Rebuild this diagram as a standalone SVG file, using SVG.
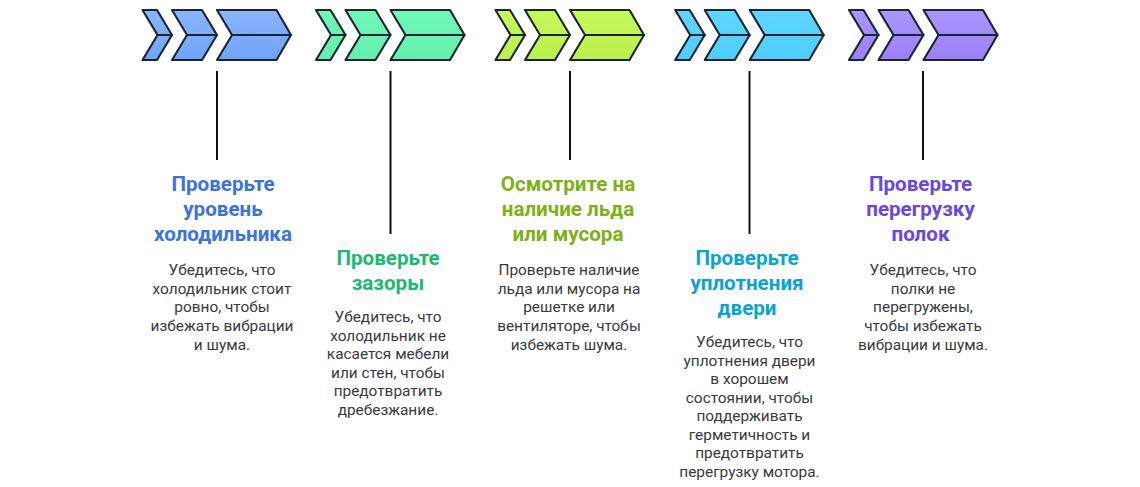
<svg xmlns="http://www.w3.org/2000/svg" width="1140" height="487" viewBox="0 0 1140 487">
<style>
text{font-family:Roboto,"Liberation Sans",sans-serif;text-anchor:middle}
.t{font-size:20.6px;font-weight:700}
.b{font-size:15.4px;fill:#3a3a3a}
.c{stroke:#1b2430;stroke-width:2.1;stroke-linejoin:round;stroke-linecap:round}
.l{stroke:#111;stroke-width:2;fill:none}
</style>
<defs>
<linearGradient id="g1" x1="0" y1="0" x2="0" y2="1"><stop offset="0" stop-color="#8ab5ff"/><stop offset="1" stop-color="#6fa3f8"/></linearGradient>
<linearGradient id="g2" x1="0" y1="0" x2="0" y2="1"><stop offset="0" stop-color="#70f8b8"/><stop offset="1" stop-color="#62f0ac"/></linearGradient>
<linearGradient id="g3" x1="0" y1="0" x2="0" y2="1"><stop offset="0" stop-color="#c6f95a"/><stop offset="1" stop-color="#bcf04e"/></linearGradient>
<linearGradient id="g4" x1="0" y1="0" x2="0" y2="1"><stop offset="0" stop-color="#60d6ff"/><stop offset="1" stop-color="#4ecdfd"/></linearGradient>
<linearGradient id="g5" x1="0" y1="0" x2="0" y2="1"><stop offset="0" stop-color="#aa96ff"/><stop offset="1" stop-color="#9a80f8"/></linearGradient>
<g id="arrows">
<path d="M142.500 10H157L172 35L157 60H142.500L157.500 35Z"/>
<path d="M172 10H202L217 35L202 60H172L187 35Z"/>
<path d="M217 10H276.500L291 35L276.500 60H217L232 35Z"/>
<path d="M157.500 35H172M187 35H217M232 35H291" fill="none"/>
</g>
</defs>
<g id="connectors" class="l">
<path d="M217 71V160"/>
<path d="M390.500 71V234"/>
<path d="M570 71V160"/>
<path d="M749.500 71V234"/>
<path d="M923 71V160"/>
</g>
<g id="node1">
<use href="#arrows" class="c" fill="url(#g1)"/>
<text class="t" fill="#3d73dc"><tspan x="223" y="191">Проверьте</tspan><tspan x="223" y="216">уровень</tspan><tspan x="223" y="241">холодильника</tspan></text>
<text class="b"><tspan x="222" y="275">Убедитесь, что</tspan><tspan x="222" y="294">холодильник стоит</tspan><tspan x="222" y="312">ровно, чтобы</tspan><tspan x="222" y="331">избежать вибрации</tspan><tspan x="222" y="350">и шума.</tspan></text>
</g>
<g id="node2">
<use href="#arrows" x="173.500" class="c" fill="url(#g2)"/>
<text class="t" fill="#1eb872"><tspan x="388" y="265">Проверьте</tspan><tspan x="388" y="290">зазоры</tspan></text>
<text class="b"><tspan x="388" y="322">Убедитесь, что</tspan><tspan x="388" y="341">холодильник не</tspan><tspan x="388" y="359">касается мебели</tspan><tspan x="388" y="378">или стен, чтобы</tspan><tspan x="388" y="396">предотвратить</tspan><tspan x="388" y="415">дребезжание.</tspan></text>
</g>
<g id="node3">
<use href="#arrows" x="353" class="c" fill="url(#g3)"/>
<text class="t" fill="#7fb017"><tspan x="568" y="191">Осмотрите на</tspan><tspan x="568" y="216">наличие льда</tspan><tspan x="568" y="241">или мусора</tspan></text>
<text class="b"><tspan x="569" y="275">Проверьте наличие</tspan><tspan x="569" y="294">льда или мусора на</tspan><tspan x="569" y="312">решетке или</tspan><tspan x="569" y="331">вентиляторе, чтобы</tspan><tspan x="569" y="350">избежать шума.</tspan></text>
</g>
<g id="node4">
<use href="#arrows" x="532.700" class="c" fill="url(#g4)"/>
<text class="t" fill="#0aa3d6"><tspan x="747" y="265">Проверьте</tspan><tspan x="747" y="290">уплотнения</tspan><tspan x="747" y="315">двери</tspan></text>
<text class="b"><tspan x="749.500" y="347">Убедитесь, что</tspan><tspan x="749.500" y="366">уплотнения двери</tspan><tspan x="749.500" y="384">в хорошем</tspan><tspan x="749.500" y="403">состоянии, чтобы</tspan><tspan x="749.500" y="421">поддерживать</tspan><tspan x="749.500" y="440">герметичность и</tspan><tspan x="749.500" y="458">предотвратить</tspan><tspan x="749.500" y="477">перегрузку мотора.</tspan></text>
</g>
<g id="node5">
<use href="#arrows" x="706.500" class="c" fill="url(#g5)"/>
<text class="t" fill="#6b47e0"><tspan x="920.500" y="191">Проверьте</tspan><tspan x="920.500" y="216">перегрузку</tspan><tspan x="920.500" y="241">полок</tspan></text>
<text class="b"><tspan x="923" y="275">Убедитесь, что</tspan><tspan x="923" y="294">полки не</tspan><tspan x="923" y="312">перегружены,</tspan><tspan x="923" y="331">чтобы избежать</tspan><tspan x="923" y="350">вибрации и шума.</tspan></text>
</g>
</svg>
